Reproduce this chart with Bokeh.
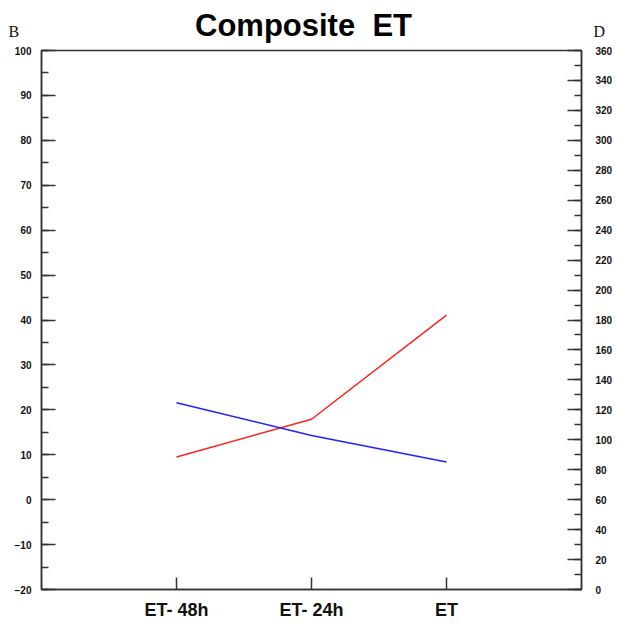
from bokeh.plotting import figure
from bokeh.models import Range1d, LinearAxis, SingleIntervalTicker, FixedTicker, Label
from bokeh.layouts import column
from bokeh.embed import file_html
from bokeh.resources import INLINE

categories = ["ET- 48h", "ET- 24h", "ET"]
cat_pos = [1, 2, 3]
red_values = [9.5, 17.9, 41.1]
blue_values = [21.6, 14.3, 8.4]

AX = "#333333"
TICK_FONT = "Liberation Sans"
W = 615
HEAD_H = 43

# header with title and corner letters
head = figure(width=W, height=HEAD_H, x_range=Range1d(0, W), y_range=Range1d(0, HEAD_H),
              output_backend="svg", toolbar_location=None, min_border=0,
              x_axis_location=None, y_axis_location=None,
              background_fill_color="white", border_fill_color="white")
head.frame_align = False
head.outline_line_color = None
head.xgrid.grid_line_color = None
head.ygrid.grid_line_color = None
head.add_layout(Label(x=303, y=18.5, text="Composite \u00a0ET", text_align="center",
                      text_baseline="alphabetic", text_font=TICK_FONT, text_font_style="bold",
                      text_font_size="31px", text_color="#000000"))
head.add_layout(Label(x=8, y=12, text="B", text_align="left",
                      text_baseline="alphabetic", text_font="Liberation Serif",
                      text_font_size="16px", text_color="#111111"))
head.add_layout(Label(x=593, y=12, text="D", text_align="left",
                      text_baseline="alphabetic", text_font="Liberation Serif",
                      text_font_size="16px", text_color="#111111"))

p = figure(width=W, height=579, x_range=Range1d(0, 4), y_range=Range1d(-20, 100),
           output_backend="svg", toolbar_location=None,
           min_border_left=41, min_border_right=32, min_border_top=7, min_border_bottom=32,
           background_fill_color="white", border_fill_color="white")
p.frame_align = False
p.extra_y_ranges = {"right": Range1d(0, 360)}

p.xgrid.grid_line_color = None
p.ygrid.grid_line_color = None
p.outline_line_color = AX
p.outline_line_width = 1.5

# left axis
ya = p.yaxis[0]
ya.ticker = SingleIntervalTicker(interval=10, num_minor_ticks=2)
ya.major_tick_in = 14
ya.major_tick_out = 0
ya.minor_tick_in = 7
ya.minor_tick_out = 0
ya.major_label_standoff = 10

# bottom axis
xa = p.xaxis[0]
xa.ticker = FixedTicker(ticks=cat_pos)
xa.major_label_overrides = {c: l for c, l in zip(cat_pos, categories)}
xa.major_tick_in = 12
xa.major_tick_out = 0
xa.major_label_standoff = 10
xa.major_label_text_font_size = "18px"
xa.major_label_text_font = TICK_FONT
xa.major_label_text_font_style = "bold"
xa.major_label_text_color = "#111111"

# right axis
ra = LinearAxis(y_range_name="right", ticker=SingleIntervalTicker(interval=20, num_minor_ticks=2))
ra.major_tick_in = 14
ra.major_tick_out = 0
ra.minor_tick_in = 7
ra.minor_tick_out = 0
ra.major_label_standoff = 14
p.add_layout(ra, "right")

for a in (ya, ra):
    a.major_label_text_font_size = "10px"
    a.major_label_text_font = TICK_FONT
    a.major_label_text_font_style = "bold"
    a.major_label_text_color = "#111111"

for a in (ya, ra, xa):
    a.axis_line_color = AX
    a.axis_line_width = 1.5
    a.major_tick_line_color = AX
    a.major_tick_line_width = 1.5
    a.minor_tick_line_color = AX if a is not xa else None
    a.minor_tick_line_width = 1.5

p.line(cat_pos, red_values, line_color="#ff2020", line_width=1.5)
p.line(cat_pos, blue_values, line_color="#2020ff", line_width=1.5)

layout = column(head, p, spacing=0)
open("out.html", "w").write(file_html(layout, INLINE))
